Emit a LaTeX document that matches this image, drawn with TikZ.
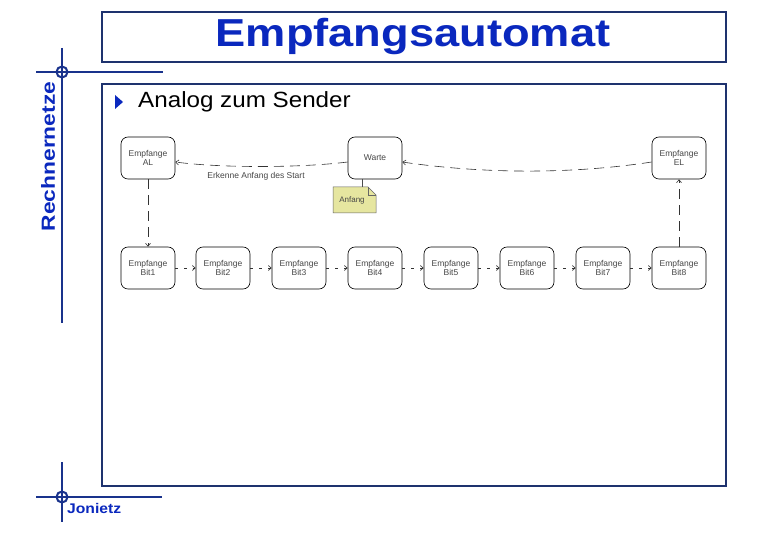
\documentclass[tikz,border=0pt]{standalone}
\usepackage{fontspec}
\setmainfont{Liberation Sans}
\usetikzlibrary{arrows.meta}
\definecolor{navyline}{RGB}{25,50,140}
\definecolor{boxline}{RGB}{30,50,110}
\definecolor{titleblue}{RGB}{10,40,190}
\definecolor{noteyellow}{RGB}{230,230,160}
\definecolor{statetext}{RGB}{70,70,70}
\begin{document}
\begin{tikzpicture}[x=1pt,y=-1pt,
  frame/.style={draw=boxline,line width=1.1pt},
  cross/.style={draw=navyline,line width=2pt},
  state/.style={draw=black,line width=0.6pt,rounded corners=7pt,minimum width=54pt,minimum height=42pt,align=center,font=\fontsize{8.5}{9.5}\selectfont,text=statetext,inner sep=1pt},
  trans/.style={draw=black!80,line width=0.6pt,dash pattern=on 10pt off 6pt,-{Straight Barb[length=3pt,width=5pt]}},
  shorttrans/.style={draw=black!80,line width=0.6pt,dash pattern=on 3pt off 6pt,-{Straight Barb[length=3pt,width=5pt]}},
  lbl/.style={font=\fontsize{8.5}{9.5}\selectfont,text=statetext}]
\useasboundingbox (0,0) rectangle (780,540);
\fill[white] (0,0) rectangle (780,540);
% frames
\draw[frame] (102,12) rectangle (726,62);
\draw[frame] (102,84) rectangle (726,486);
\node[font=\fontsize{39}{40}\selectfont\bfseries,text=titleblue] (title) at (413,37) {\scalebox{1.16}[1]{Empfangsautomat}};
% crosshairs
\draw[cross] (62,48) -- (62,323);
\draw[cross] (36,72) -- (163,72);
\draw[cross] (62,72) circle (5.5);
\draw[cross] (62,462) -- (62,522);
\draw[cross] (36,497) -- (162,497);
\draw[cross] (62,497) circle (5.5);
\node[rotate=90,font=\fontsize{19}{20}\selectfont\bfseries,text=titleblue] (rn) at (48,156.5) {\scalebox{1.2}[1]{Rechnernetze}};
\node[anchor=west,font=\fontsize{14}{15}\selectfont\bfseries,text=titleblue,inner sep=0pt] (jo) at (67,508) {\scalebox{1.12}[1]{Jonietz}};
% bullet
\fill[titleblue] (115,95) -- (123,102) -- (115,109) -- cycle;
\node[anchor=west,font=\fontsize{22}{23}\selectfont,inner sep=0pt] (bul) at (138,102) {\scalebox{1.1}[1]{Analog zum Sender}};
% states
\node[state] (al) at (148,158) {Empfange\\AL};
\node[state] (warte) at (375,158) {Warte};
\node[state] (el) at (679,158) {Empfange\\EL};
\foreach \i/\x in {1/148,2/223,3/299,4/375,5/451,6/527,7/603,8/679}{
  \node[state] (b\i) at (\x,268) {Empfange\\Bit\i};
}
% note
\draw[draw=black!60,fill=noteyellow,line width=0.5pt] (333,187) -- (368,187) -- (376,195) -- (376,213) -- (333,213) -- cycle;
\draw[draw=black!60,line width=0.5pt] (368,187) -- (368,195) -- (376,195);
\node[font=\fontsize{8}{9}\selectfont,text=statetext] (note) at (352,200) {Anfang};
\draw[black!70,line width=0.5pt] (362,179) -- (362,187);
% transitions
\draw[trans] (el.west |- 0,162) .. controls (560,176) and (470,172) .. (warte.east |- 0,162);
\draw[trans] (warte.west |- 0,162) .. controls (300,168) and (220,168) .. (al.east |- 0,162);
\node[lbl] (erk) at (256,176) {Erkenne Anfang des Start};
\draw[trans] (al.south) -- (b1.north);
\draw[trans] (b8.north) -- (el.south);
\foreach \i [count=\j from 2] in {1,...,7}{
  \draw[shorttrans] (b\i.east) -- (b\j.west);
}
\end{tikzpicture}
\end{document}
